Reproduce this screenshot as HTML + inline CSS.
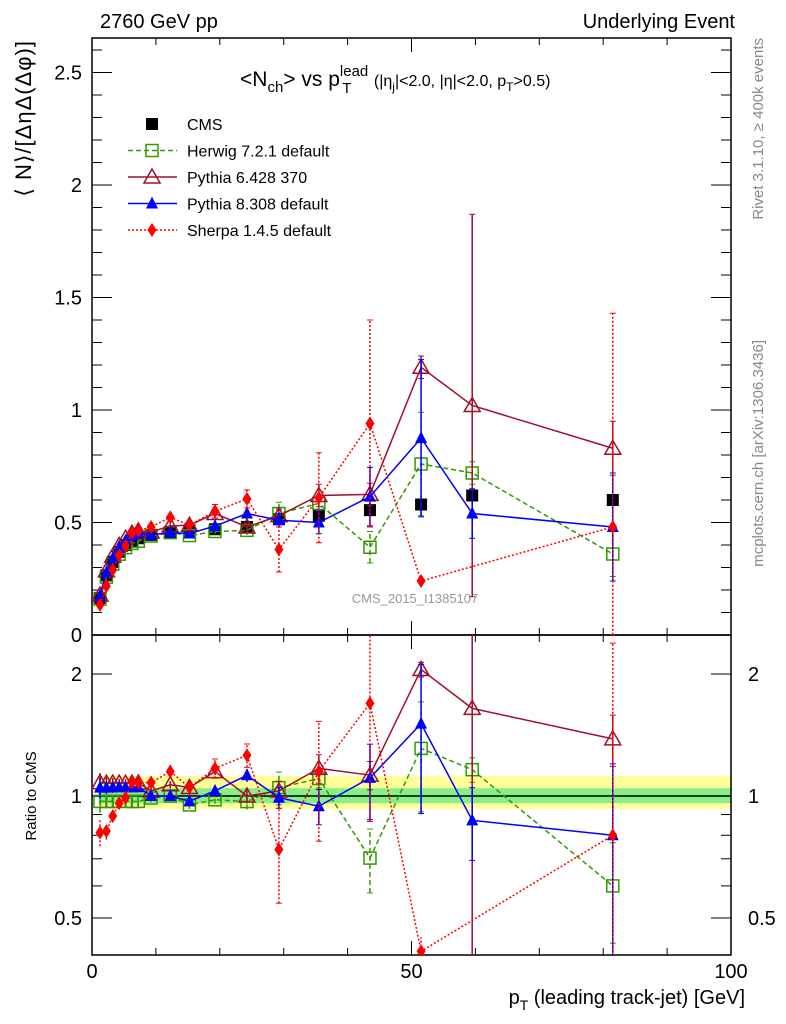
<!DOCTYPE html>
<html><head><meta charset="utf-8"><style>
html,body{margin:0;padding:0;background:#fff;width:786px;height:1024px;overflow:hidden}
svg{display:block;font-family:"Liberation Sans",sans-serif}
</style></head><body>
<svg id="c" width="786" height="1024" xmlns="http://www.w3.org/2000/svg"></svg>
<script>
const pts=[1.25,2.25,3.25,4.25,5.25,6.25,7.25,9.25,12.25,15.25,19.25,24.25,29.25,35.5,43.5,51.5,59.5,81.5];
const cmsVals=[0.165,0.265,0.325,0.37,0.40,0.42,0.43,0.445,0.455,0.465,0.47,0.48,0.515,0.53,0.555,0.58,0.62,0.60];
const herwigVals=[0.16,0.257,0.315,0.359,0.388,0.407,0.417,0.44,0.455,0.442,0.46,0.465,0.54,0.585,0.39,0.76,0.72,0.36];
const py6Vals=[0.178,0.285,0.35,0.398,0.43,0.452,0.463,0.458,0.485,0.488,0.54,0.48,0.53,0.62,0.625,1.19,1.02,0.83];
const py8Vals=[0.173,0.278,0.341,0.389,0.42,0.441,0.452,0.445,0.455,0.451,0.484,0.54,0.51,0.50,0.615,0.875,0.54,0.48];
const sherpaVals=[0.134,0.217,0.29,0.355,0.396,0.454,0.464,0.48,0.523,0.488,0.55,0.605,0.38,0.61,0.94,0.24,null,0.48];
const herwigErr=[0.01,0.01,0.01,0.01,0.01,0.01,0.01,0.01,0.01,0.01,0.01,0.02,0.05,0.03,0.07,0.23,0.05,0.1];
const py6Err=[0.01,0.01,0.01,0.01,0.01,0.01,0.01,0.01,0.01,0.01,0.01,0.02,0.03,0.05,0.05,0.05,0.85,0.12];
const py8Err=[0.01,0.01,0.01,0.01,0.01,0.01,0.01,0.01,0.01,0.01,0.01,0.02,0.03,0.05,0.13,0.35,0.11,0.24];
const sherpaErr=[0.01,0.01,0.01,0.01,0.01,0.01,0.01,0.02,0.02,0.02,0.03,0.04,0.1,0.2,0.46,0.02,0,0.95];
const cmsErr=[0.005,0.005,0.005,0.005,0.005,0.005,0.005,0.005,0.005,0.005,0.005,0.01,0.01,0.01,0.01,0.01,0.01,0.01];
const xTicks=[0,50,100];
const yTicks=[0,0.5,1,1.5,2,2.5];
const rTicks=[0.5,1,2];

const NS="http://www.w3.org/2000/svg";
const svg=document.getElementById('c');
const X0=92,X1=731,MT=38,MB=635,RT=635,RB=955;
const sx=v=>X0+(X1-X0)*v/100;
const sy=v=>MB-225*v;
const ry=r=>796-122*Math.log2(r);
function el(tag,attrs,parent){const e=document.createElementNS(NS,tag);for(const k in attrs)e.setAttribute(k,attrs[k]);(parent||svg).appendChild(e);return e;}
const defs=el('defs',{});
const c1=el('clipPath',{id:'cm'},defs);el('rect',{x:X0,y:MT,width:X1-X0,height:MB-MT},c1);
const c2=el('clipPath',{id:'cr'},defs);el('rect',{x:X0,y:RT,width:X1-X0,height:RB-RT},c2);

function txt(x,y,s,size,anchor,fill,extra){const t=el('text',Object.assign({x:x,y:y,'font-size':size,'text-anchor':anchor||'start',fill:fill||'#000'},extra||{}));t.innerHTML=s;return t;}
let t;
t=txt(100,28,'2760 GeV pp',20);
t=txt(735,28,'Underlying Event',20,'end');
t=txt(240,86,'&lt;N<tspan font-size="15" dy="6">ch</tspan><tspan dy="-6">&gt; vs p</tspan><tspan font-size="15" dy="-10">lead</tspan><tspan font-size="15" dx="-26" dy="17">T</tspan><tspan font-size="16" dx="18" dy="-7"> (|η</tspan><tspan font-size="12" dy="5">j</tspan><tspan font-size="16" dy="-5">|&lt;2.0, |η|&lt;2.0, p</tspan><tspan font-size="12" dy="5">T</tspan><tspan font-size="16" dy="-5">&gt;0.5)</tspan>',21,'start');

t=txt(0,0,'⟨ N⟩/[ΔηΔ(Δφ)]',22,'end',null,{transform:'translate(31,40) rotate(-90)','letter-spacing':'1'});
t=txt(0,0,'Ratio to CMS',15,'middle',null,{transform:'translate(36,796) rotate(-90)'});
t=txt(0,0,'Rivet 3.1.10, ≥ 400k events',15,'end','#888',{transform:'translate(763,38) rotate(-90)'});
t=txt(0,0,'mcplots.cern.ch [arXiv:1306.3436]',15,'end','#888',{transform:'translate(763,340) rotate(-90)'});
t=txt(415,603,'CMS_2015_I1385107',13,'middle','#999');
t=txt(745,1004,'p<tspan font-size="14" dy="6">T</tspan><tspan dy="-6"> (leading track-jet) [GeV]</tspan>',20,'end');

let b=el('rect',{x:sx(1),y:ry(1.12),width:X1-sx(1),height:ry(0.93)-ry(1.12),fill:'#ffff99'});

b=el('rect',{x:sx(1),y:ry(1.045),width:X1-sx(1),height:ry(0.96)-ry(1.045),fill:'#88ee88'});

el('line',{x1:X0,x2:X1,y1:ry(1),y2:ry(1),stroke:'#000','stroke-width':1.5});

let f=el('rect',{x:X0,y:MT,width:X1-X0,height:MB-MT,fill:'none',stroke:'#000','stroke-width':1.5});

f=el('rect',{x:X0,y:RT,width:X1-X0,height:RB-RT,fill:'none',stroke:'#000','stroke-width':1.5});


for(let v=0;v<=100;v+=10){const big=v%50===0;const L=big?14:7;
 [MT,RT].forEach(yt=>el('line',{x1:sx(v),x2:sx(v),y1:yt,y2:yt+L,stroke:'#000'}));
 [MB,RB].forEach(yb=>el('line',{x1:sx(v),x2:sx(v),y1:yb,y2:yb-L,stroke:'#000'}));}
xTicks.forEach(v=>{const e=txt(sx(v),978,String(v),20,'middle');});
for(let i=0;i<=26;i++){const v=i/10;const big=i%5===0;const L=big?20:10;
 el('line',{x1:X0,x2:X0+L,y1:sy(v),y2:sy(v),stroke:'#000'});el('line',{x1:X1,x2:X1-L,y1:sy(v),y2:sy(v),stroke:'#000'});}
yTicks.forEach(v=>{const e=txt(82,sy(v)+7,String(v),20,'end');});
[0.5,0.6,0.7,0.8,0.9,1,2].forEach(v=>{const big=(v===0.5||v===1||v===2);const L=big?20:10;
 el('line',{x1:X0,x2:X0+L,y1:ry(v),y2:ry(v),stroke:'#000'});el('line',{x1:X1,x2:X1-L,y1:ry(v),y2:ry(v),stroke:'#000'});});
rTicks.forEach(v=>{let e=txt(82,ry(v)+7,String(v),20,'end');
 e=txt(748,ry(v)+7,String(v),20,'start');});

function marker(g,type,x,y,col){
 if(type==='sq'){el('rect',{x:x-6,y:y-6,width:12,height:12,fill:'#000'},g);}
 else if(type==='osq'){el('rect',{x:x-6,y:y-6,width:12,height:12,fill:'none',stroke:col,'stroke-width':1.5},g);}
 else if(type==='otri'){el('polygon',{points:`${x},${y-8} ${x-8},${y+6} ${x+8},${y+6}`,fill:'none',stroke:col,'stroke-width':1.5},g);}
 else if(type==='tri'){el('polygon',{points:`${x},${y-7} ${x-6},${y+5} ${x+6},${y+5}`,fill:col},g);}
 else if(type==='dia'){el('polygon',{points:`${x},${y-7} ${x+4.5},${y} ${x},${y+7} ${x-4.5},${y}`,fill:col},g);}
}
const series=[
 {name:'herwig',vals:herwigVals,err:herwigErr,col:'#339900',dash:'5,3',m:'osq'},
 {name:'pythia6',vals:py6Vals,err:py6Err,col:'#a0102a',dash:'',m:'otri'},
 {name:'pythia8',vals:py8Vals,err:py8Err,col:'#0000ff',dash:'',m:'tri'},
 {name:'sherpa',vals:sherpaVals,err:sherpaErr,col:'#ff0000',dash:'2,2',m:'dia'}];
function drawSeries(s,panel){
 const yf=panel==='main'?sy:ry;
 const g=el('g',{'clip-path':panel==='main'?'url(#cm)':'url(#cr)'});
 
 
 const val=i=>panel==='main'?s.vals[i]:s.vals[i]/cmsVals[i];
 const scale=i=>panel==='main'?1:1/cmsVals[i];
 let d='';
 pts.forEach((p,i)=>{if(s.vals[i]==null)return;d+=(d?'L':'M')+sx(p)+','+yf(val(i));});
 el('path',{d:d,fill:'none',stroke:s.col,'stroke-width':1.5,'stroke-dasharray':s.dash},g);
 pts.forEach((p,i)=>{if(s.vals[i]==null)return;const v=s.vals[i],e=s.err[i],k=scale(i);
  const lo=Math.max(v-e,0.001)*k,hi=(v+e)*k;
  el('line',{x1:sx(p),x2:sx(p),y1:yf(lo),y2:yf(hi),stroke:s.col,'stroke-width':1.5,'stroke-dasharray':s.dash},g);
  if(e>0.02){el('line',{x1:sx(p)-3,x2:sx(p)+3,y1:yf(lo),y2:yf(lo),stroke:s.col},g);el('line',{x1:sx(p)-3,x2:sx(p)+3,y1:yf(hi),y2:yf(hi),stroke:s.col},g);}
  marker(g,s.m,sx(p),yf(val(i)),s.col);});
}
const gc=el('g',{'clip-path':'url(#cm)'});


pts.forEach((p,i)=>{el('line',{x1:sx(p),x2:sx(p),y1:sy(cmsVals[i]-cmsErr[i]),y2:sy(cmsVals[i]+cmsErr[i]),stroke:'#000'},gc);marker(gc,'sq',sx(p),sy(cmsVals[i]));});
series.forEach(s=>{drawSeries(s,'main');drawSeries(s,'ratio');});

const lg=el('g',{});


const L=[['CMS',null],['Herwig 7.2.1 default',series[0]],['Pythia 6.428 370',series[1]],['Pythia 8.308 default',series[2]],['Sherpa 1.4.5 default',series[3]]];
L.forEach((it,i)=>{const y=124+26.5*i;const g=el('g',{},lg);
 
 
 if(!it[1])marker(g,'sq',152,y);
 else{el('line',{x1:128,x2:177,y1:y,y2:y,stroke:it[1].col,'stroke-width':1.5,'stroke-dasharray':it[1].dash},g);marker(g,it[1].m,152,y,it[1].col);}
 const tt=el('text',{x:187,y:y+6,'font-size':16},g);tt.textContent=it[0];});
</script>
</body></html>
